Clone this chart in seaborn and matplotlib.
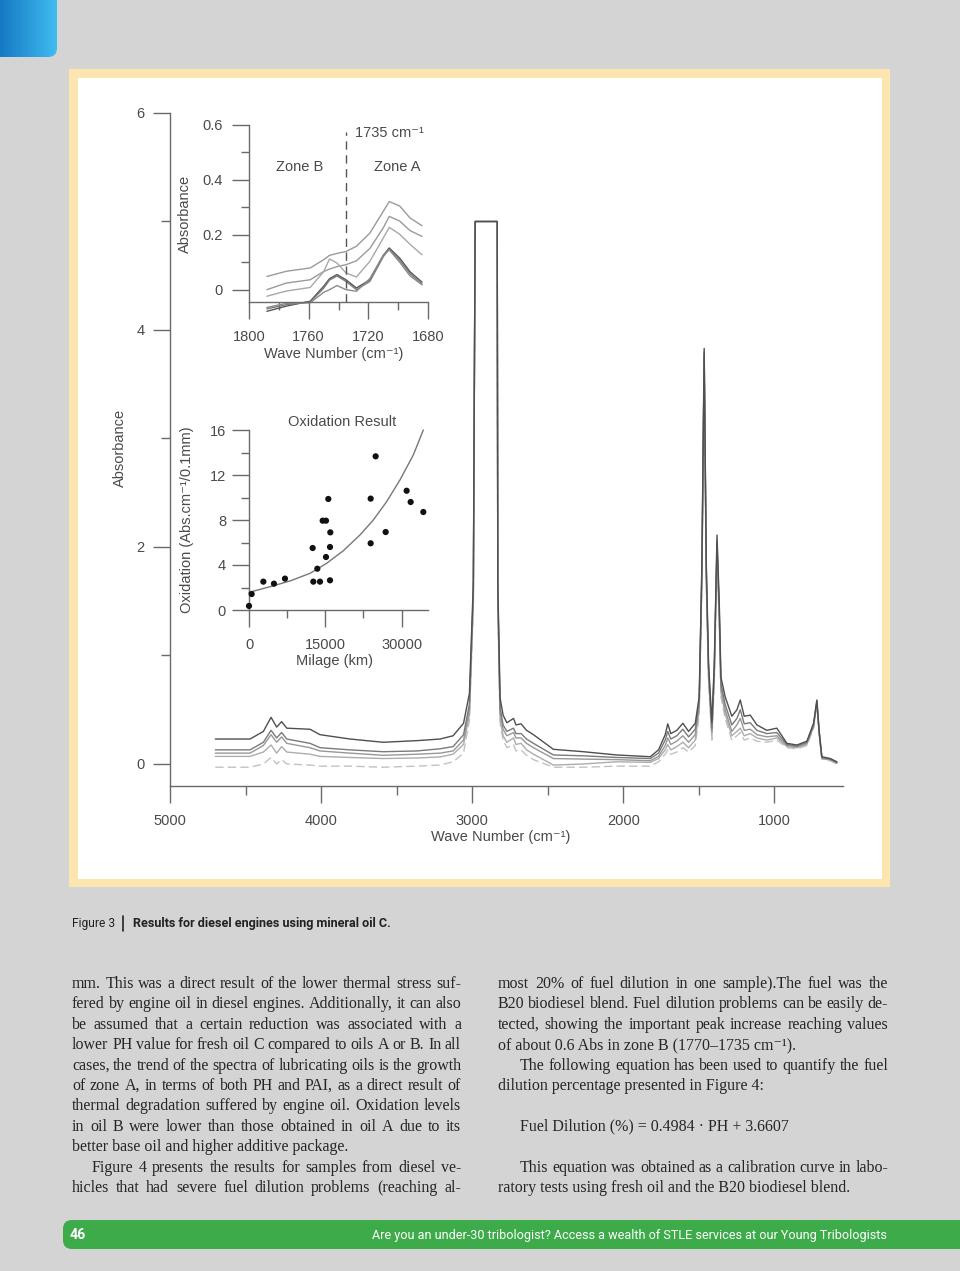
import pandas as pd
import seaborn as sns
import matplotlib.pyplot as plt
from matplotlib import font_manager
from matplotlib.patches import FancyBboxPatch, Rectangle
from matplotlib.colors import LinearSegmentedColormap
import numpy as np

# ---------------- main FTIR spectra ----------------
wave_number = [4700, 4470, 4382, 4331, 4294, 4261, 4227, 4073, 4007, 3808,
               3589, 3366, 3212, 3126, 3057, 3018, 2992, 2980, 2834, 2830,
               2815, 2795, 2770, 2726, 2710, 2676, 2640, 2594, 2462, 2263,
               2043, 1821, 1766, 1722, 1705, 1685, 1645, 1605, 1567, 1523,
               1497, 1479, 1464, 1450, 1435, 1413, 1397, 1379, 1364, 1353,
               1325, 1281, 1247, 1225, 1199, 1159, 1115, 1049, 983, 916,
               850, 784, 740, 718, 703, 685, 629, 585]
spec_1 = [0.23, 0.23, 0.30, 0.43, 0.34, 0.39, 0.33, 0.32, 0.27, 0.23,
          0.20, 0.215, 0.23, 0.26, 0.375, 0.65, 1.67, 5.0, 5.0, 1.67,
          0.61, 0.45, 0.38, 0.42, 0.36, 0.37, 0.31, 0.27, 0.135, 0.113,
          0.083, 0.067, 0.13, 0.27, 0.37, 0.28, 0.31, 0.375, 0.30, 0.375,
          0.62, 1.85, 3.83, 1.85, 0.93, 0.38, 0.93, 2.11, 1.48, 0.80,
          0.62, 0.44, 0.50, 0.59, 0.44, 0.45, 0.36, 0.31, 0.33, 0.19,
          0.175, 0.21, 0.375, 0.59, 0.31, 0.067, 0.05, 0.02]
spec_2 = [0.13, 0.13, 0.20, 0.31, 0.24, 0.29, 0.23, 0.19, 0.15, 0.13,
          0.113, 0.12, 0.14, 0.16, 0.27, 0.55, 1.60, 5.0, 5.0, 1.60,
          0.52, 0.36, 0.30, 0.33, 0.28, 0.28, 0.23, 0.19, 0.083, 0.075,
          0.06, 0.05, 0.10, 0.22, 0.30, 0.23, 0.26, 0.32, 0.25, 0.32,
          0.58, 1.80, 3.80, 1.80, 0.88, 0.33, 0.88, 2.05, 1.42, 0.74,
          0.55, 0.36, 0.42, 0.50, 0.37, 0.38, 0.31, 0.28, 0.29, 0.18,
          0.165, 0.20, 0.36, 0.58, 0.30, 0.06, 0.045, 0.015]
spec_3 = [0.10, 0.10, 0.17, 0.27, 0.20, 0.25, 0.19, 0.15, 0.12, 0.10,
          0.08, 0.09, 0.10, 0.12, 0.22, 0.50, 1.55, 5.0, 5.0, 1.55,
          0.48, 0.32, 0.26, 0.29, 0.24, 0.24, 0.19, 0.15, 0.05, 0.045,
          0.04, 0.03, 0.07, 0.17, 0.24, 0.18, 0.21, 0.26, 0.20, 0.27,
          0.54, 1.75, 3.78, 1.75, 0.84, 0.29, 0.84, 2.00, 1.38, 0.70,
          0.50, 0.30, 0.36, 0.42, 0.31, 0.32, 0.27, 0.25, 0.26, 0.17,
          0.16, 0.19, 0.35, 0.57, 0.29, 0.055, 0.04, 0.01]
spec_4 = [0.07, 0.07, 0.11, 0.175, 0.10, 0.16, 0.11, 0.09, 0.07, 0.06,
          0.05, 0.055, 0.065, 0.09, 0.18, 0.45, 1.50, 5.0, 5.0, 1.50,
          0.42, 0.26, 0.20, 0.24, 0.18, 0.19, 0.13, 0.09, -0.01, 0.00,
          0.02, 0.015, 0.05, 0.13, 0.18, 0.13, 0.16, 0.20, 0.15, 0.22,
          0.50, 1.70, 3.75, 1.70, 0.80, 0.26, 0.80, 1.95, 1.33, 0.66,
          0.46, 0.26, 0.30, 0.33, 0.26, 0.28, 0.24, 0.22, 0.24, 0.16,
          0.15, 0.18, 0.34, 0.56, 0.28, 0.05, 0.035, 0.005]
spec_5 = [-0.03, -0.03, 0.00, 0.06, 0.00, 0.04, 0.00, -0.01, -0.02, -0.02,
          -0.03, -0.02, -0.01, 0.02, 0.10, 0.40, 1.45, 5.0, 5.0, 1.45,
          0.38, 0.22, 0.15, 0.18, 0.12, 0.13, 0.08, 0.04, -0.03, -0.03,
          -0.02, -0.02, 0.02, 0.09, 0.13, 0.09, 0.11, 0.15, 0.11, 0.17,
          0.45, 1.65, 3.70, 1.65, 0.75, 0.22, 0.75, 1.90, 1.28, 0.62,
          0.42, 0.22, 0.26, 0.29, 0.22, 0.24, 0.21, 0.20, 0.22, 0.15,
          0.14, 0.17, 0.33, 0.55, 0.27, 0.045, 0.03, 0.00]

# ---------------- carbonyl zoom inset ----------------
inset_wn = [1788, 1775, 1759, 1750, 1746, 1741, 1735, 1728, 1719, 1710, 1706, 1699, 1692, 1684]
zoom_1 = [0.048, 0.067, 0.079, 0.109, 0.125, 0.132, 0.139, 0.158, 0.206, 0.285, 0.321, 0.305, 0.261, 0.233]
zoom_2 = [0.0, 0.024, 0.036, 0.066, 0.075, 0.084, 0.091, 0.105, 0.150, 0.225, 0.267, 0.250, 0.215, 0.194]
zoom_3 = [-0.024, -0.005, 0.008, 0.065, 0.112, 0.097, 0.061, 0.046, 0.103, 0.188, 0.227, 0.202, 0.165, 0.127]
zoom_4 = [-0.079, -0.06, -0.042, 0.012, 0.04, 0.055, 0.036, 0.006, 0.036, 0.125, 0.152, 0.115, 0.065, 0.027]
zoom_5 = [-0.07, -0.055, -0.045, 0.005, 0.035, 0.05, 0.03, 0.0, 0.03, 0.12, 0.148, 0.108, 0.058, 0.02]
zoom_6 = [-0.065, -0.05, -0.048, -0.01, 0.0, 0.015, 0.0, -0.006, 0.04, 0.125, 0.145, 0.10, 0.05, 0.018]
zone_split = 1735

# ---------------- oxidation inset ----------------
ox_milage = [0, 520, 2820, 4910, 7070, 12510, 12640, 13430, 13950, 14480, 15130, 15130,
             15590, 15980, 15920, 15920, 23910, 23910, 24890, 26860, 30980, 31770, 34260]
ox_value = [0.36, 1.42, 2.52, 2.34, 2.79, 5.51, 2.52, 3.67, 2.52, 7.94, 7.94, 4.71,
            9.87, 6.90, 5.60, 2.64, 9.90, 5.93, 13.66, 6.93, 10.6, 9.6, 8.71]
fit_milage = [0, 4130, 8060, 11990, 15260, 18540, 21810, 24430, 27050, 29670, 32290, 34260]
fit_value = [1.57, 2.07, 2.58, 3.26, 4.15, 5.27, 6.67, 8.0, 9.63, 11.56, 13.78, 16.0]

# ticks
main_xticks = [5000, 4000, 3000, 2000, 1000]
main_yticks = [0, 2, 4, 6]
zoom_xticks = [1800, 1760, 1720, 1680]
zoom_yticks = [0, 0.2, 0.4, 0.6]
zoom_ylabels = ["0", "0.2", "0.4", "0.6"]
ox_xticks = [0, 15000, 30000]
ox_yticks = [0, 4, 8, 12, 16]

# ---------------- page text ----------------
caption_a = "Figure 3"
caption_b = "Results for diesel engines using mineral oil C."
left_col = [
    ("mm. This was a direct result of the lower thermal stress suf-", 0, False),
    ("fered by engine oil in diesel engines. Additionally, it can also", 0, False),
    ("be assumed that a certain reduction was associated with a", 0, False),
    ("lower PH value for fresh oil C compared to oils A or B. In all", 0, False),
    ("cases, the trend of the spectra of lubricating oils is the growth", 0, False),
    ("of zone A, in terms of both PH and PAI, as a direct result of", 0, False),
    ("thermal degradation suffered by engine oil. Oxidation levels", 0, False),
    ("in oil B were lower than those obtained in oil A due to its", 0, False),
    ("better base oil and higher additive package.", 0, True),
    ("Figure 4 presents the results for samples from diesel ve-", 20, False),
    ("hicles that had severe fuel dilution problems (reaching al-", 0, False),
]
right_col = [
    ("most 20% of fuel dilution in one sample).The fuel was the", 0, False),
    ("B20 biodiesel blend. Fuel dilution problems can be easily de-", 0, False),
    ("tected, showing the important peak increase reaching values", 0, False),
    ("of about 0.6 Abs in zone B (1770\u20131735 cm\u207b\u00b9).", 0, True),
    ("The following equation has been used to quantify the fuel", 22, False),
    ("dilution percentage presented in Figure 4:", 0, True),
    ("", 0, True),
    ("Fuel Dilution (%) = 0.4984 \u00b7 PH + 3.6607", 22, True),
    ("", 0, True),
    ("This equation was obtained as a calibration curve in labo-", 22, False),
    ("ratory tests using fresh oil and the B20 biodiesel blend.", 0, True),
]
footer_page = "46"
footer_text = "Are you an under-30 tribologist? Access a wealth of STLE services at our Young Tribologists"

# ================================================================
sns.set_theme(style="white")
plt.rcParams['font.family'] = ['Liberation Sans', 'DejaVu Sans']

W, H = 960, 1271
fig = plt.figure(figsize=(9.6, 12.71), dpi=100, facecolor='#d4d4d4')


def box(l, t, r, b):
    return [l / W, 1 - b / H, (r - l) / W, (b - t) / H]


# page layer in pixel coordinates
page = fig.add_axes([0, 0, 1, 1])
page.axis('off')

# blue tab with gradient
blue = LinearSegmentedColormap.from_list('tab', ['#1679c4', '#3fbcef'])
grad = np.linspace(0, 1, 64).reshape(1, -1)
im = page.imshow(grad, extent=[0, 57, 57, 0], cmap=blue, aspect='auto', zorder=1)
tab = FancyBboxPatch((-30, -30), 87, 87, boxstyle="round,pad=0,rounding_size=9",
                     transform=page.transData, facecolor='none', edgecolor='none')
page.add_patch(tab)
im.set_clip_path(tab)

# cream frame + white panel
page.add_patch(Rectangle((69, 69), 821, 818, facecolor='#fce5ae', edgecolor='none'))
page.add_patch(Rectangle((78, 78), 804, 801, facecolor='white', edgecolor='none'))

# green footer bar
page.add_patch(FancyBboxPatch((63, 1220), 960, 29, boxstyle="round,pad=0,rounding_size=9",
                              facecolor='#3dab4a', edgecolor='none'))
page.set_xlim(0, W)
page.set_ylim(H, 0)

rend = fig.canvas.get_renderer()


def text_w(s, **kw):
    t = page.text(0, 0, s, **kw)
    w = t.get_window_extent(rend).width
    t.remove()
    return w


def fit_size(s, width, **kw):
    return 10 * width / text_w(s, fontsize=10, **kw)


names = {f.name for f in font_manager.fontManager.ttflist}
cond = ['Liberation Sans Narrow'] if 'Liberation Sans Narrow' in names else ['Roboto']
cond = cond + ['DejaVu Sans']

# caption
page.text(72, 924, caption_a, family=cond, color='#222222', va='center', ha='left',
          fontsize=fit_size(caption_a, 43, family=cond))
page.plot([123, 123], [916, 931], color='#222222', lw=1.2)
page.text(133, 924, caption_b, family=cond, weight='bold', color='#222222', va='center', ha='left',
          fontsize=fit_size(caption_b, 260, family=cond, weight='bold'))

# body text (justified)
serif = ['Liberation Serif', 'DejaVu Serif']
body_fs = fit_size("better base oil and higher additive package.", 278, family=serif)


def justify(line, x0, x1, y, indent, last):
    kw = dict(family=serif, fontsize=body_fs, color='#262626', va='center', ha='left')
    if not line:
        return
    words = line.split(' ')
    start = x0 + indent
    if last or len(words) == 1:
        page.text(start, y, line, **kw)
        return
    widths = [text_w(w_, family=serif, fontsize=body_fs) for w_ in words]
    gap = (x1 - start - sum(widths)) / (len(words) - 1)
    x = start
    for w_, wd in zip(words, widths):
        page.text(x, y, w_, **kw)
        x += wd + gap


for i, (line, ind, last) in enumerate(left_col):
    justify(line, 72, 461, 984 + i * 20.4, ind, last)
for i, (line, ind, last) in enumerate(right_col):
    justify(line, 498, 888, 984 + i * 20.4, ind, last)

# footer text
page.text(70, 1235, footer_page, family=cond, weight='bold', color='white', va='center',
          fontsize=fit_size(footer_page, 16, family=cond, weight='bold'))
page.text(372, 1235, footer_text, family=cond, color='white', va='center',
          fontsize=fit_size(footer_text, 516, family=cond))

# ================= charts =================
TXT = '#4a4a4a'
AXC = '#6a6a6a'
FS = 10.5


def style_axis(a, major_len, minor_len, xpad, ypad):
    sns.despine(ax=a)
    for s in ['left', 'bottom']:
        a.spines[s].set_color(AXC)
        a.spines[s].set_linewidth(1.0)
    a.patch.set_alpha(0)
    a.tick_params(which='major', direction='out', length=major_len, width=1.0, color=AXC,
                  labelcolor=TXT, labelsize=FS, left=True, bottom=True)
    a.tick_params(which='minor', direction='out', length=minor_len, width=1.0, color=AXC,
                  left=True, bottom=True)
    a.tick_params(axis='x', which='major', pad=xpad)
    a.tick_params(axis='y', which='major', pad=ypad)


# ---- main spectra ----
ax = fig.add_axes(box(170, 113, 843, 786))
spec_df = pd.DataFrame({'wn': wave_number, 'S1': spec_1, 'S2': spec_2, 'S3': spec_3,
                        'S4': spec_4, 'S5': spec_5}).melt(id_vars='wn', var_name='sample', value_name='abs')
spec_order = ['S5', 'S4', 'S3', 'S2', 'S1']
spec_pal = {'S1': '#4f4f4f', 'S2': '#7a7a7a', 'S3': '#989898', 'S4': '#adadad', 'S5': '#c2c2c2'}
spec_dash = {'S1': '', 'S2': '', 'S3': '', 'S4': '', 'S5': (6, 3)}
sns.lineplot(data=spec_df, x='wn', y='abs', hue='sample', style='sample', hue_order=spec_order,
             style_order=spec_order, palette=spec_pal, dashes=spec_dash, linewidth=1.0,
             estimator=None, sort=False, legend=False, ax=ax)
ax.set_xlim(5000, 545)
ax.set_ylim(-0.203, 6.0)
ax.set_xticks(main_xticks)
ax.set_xticks([4500, 3500, 2500, 1500], minor=True)
ax.set_yticks(main_yticks)
ax.set_yticks([1, 3, 5], minor=True)
style_axis(ax, 12, 6.5, 8, 6.5)
ax.set_xlabel("Wave Number (cm\u207b\u00b9)", fontsize=FS, color=TXT)
ax.set_ylabel("Absorbance", fontsize=FS, color=TXT)
ax.xaxis.set_label_coords(0.492, -0.0758)
ax.xaxis.label.set_va('center')
ax.yaxis.set_label_coords(-0.0743, 0.502)
ax.yaxis.label.set_va('center')

# ---- carbonyl inset ----
ax1 = fig.add_axes(box(249, 125, 428, 302))
zoom_df = pd.DataFrame({'wn': inset_wn, 'C1': zoom_1, 'C2': zoom_2, 'C3': zoom_3,
                        'C4': zoom_4, 'C5': zoom_5, 'C6': zoom_6}).melt(id_vars='wn', var_name='curve', value_name='abs')
zoom_pal = {'C1': '#9a9a9a', 'C2': '#9a9a9a', 'C3': '#a8a8a8', 'C4': '#555555', 'C5': '#7a7a7a', 'C6': '#8a8a8a'}
sns.lineplot(data=zoom_df, x='wn', y='abs', hue='curve', palette=zoom_pal, linewidth=1.0,
             estimator=None, sort=False, legend=False, ax=ax1, clip_on=False)
ax1.axvline(zone_split, ymin=0.0, ymax=0.96, color='#555555', lw=1.0, ls=(0, (6, 4)))
ax1.set_xlim(1800, 1680)
ax1.set_ylim(-0.045, 0.6)
ax1.set_xticks(zoom_xticks)
ax1.set_xticks([1780, 1740, 1700], minor=True)
ax1.set_yticks(zoom_yticks)
ax1.set_yticklabels(zoom_ylabels)
ax1.set_yticks([0.1, 0.3, 0.5], minor=True)
style_axis(ax1, 12.5, 6, 8, 6.5)
ax1.set_xlabel("Wave Number (cm\u207b\u00b9)", fontsize=FS, color=TXT)
ax1.set_ylabel("Absorbance", fontsize=FS, color=TXT)
ax1.xaxis.set_label_coords(0.475, -0.294)
ax1.xaxis.label.set_va('center')
ax1.yaxis.set_label_coords(-0.358, 0.497)
ax1.yaxis.label.set_va('center')
ax1.text(0.592, 0.955, "1735 cm\u207b\u00b9", transform=ax1.transAxes, fontsize=FS, color=TXT,
         ha='left', va='center')
ax1.text(0.285, 0.763, "Zone B", transform=ax1.transAxes, fontsize=FS, color=TXT, ha='center', va='center')
ax1.text(0.827, 0.763, "Zone A", transform=ax1.transAxes, fontsize=FS, color=TXT, ha='center', va='center')

# ---- oxidation inset ----
ax2 = fig.add_axes(box(249, 430, 428, 610))
fit_df = pd.DataFrame({'km': fit_milage, 'ox': fit_value})
ox_df = pd.DataFrame({'km': ox_milage, 'ox': ox_value})
sns.lineplot(data=fit_df, x='km', y='ox', color='#777777', linewidth=1.0, ax=ax2, clip_on=False)
sns.scatterplot(data=ox_df, x='km', y='ox', color='#111111', s=20, edgecolor='none', ax=ax2,
                clip_on=False, zorder=3)
ax2.set_xlim(0, 35180)
ax2.set_ylim(0, 16)
ax2.set_xticks(ox_xticks)
ax2.set_xticks([7500, 22500], minor=True)
ax2.set_yticks(ox_yticks)
ax2.set_yticks([2, 6, 10, 14], minor=True)
style_axis(ax2, 12.5, 6, 8, 4)
ax2.set_xlabel("Milage (km)", fontsize=FS, color=TXT)
ax2.set_ylabel("Oxidation (Abs.cm\u207b\u00b9/0.1mm)", fontsize=FS, color=TXT)
ax2.xaxis.set_label_coords(0.48, -0.283)
ax2.xaxis.label.set_va('center')
ax2.yaxis.set_label_coords(-0.346, 0.5)
ax2.yaxis.label.set_va('center')
ax2.set_title("Oxidation Result", fontsize=FS, color=TXT, x=0.52, y=1.044, va='center', pad=0)

fig.savefig('out.png', dpi=100, facecolor=fig.get_facecolor())
